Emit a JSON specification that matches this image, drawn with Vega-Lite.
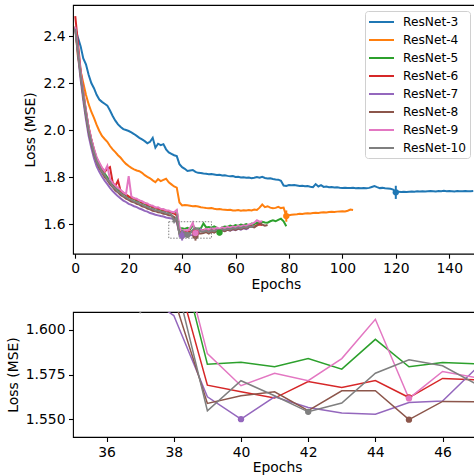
{
"$schema":"https://vega.github.io/schema/vega-lite/v6.json",
"padding":{"left":5,"top":4,"right":0,"bottom":0},
"spacing":18,
"datasets":{
"names":[{"k":"r3","model":"ResNet-3"},{"k":"r4","model":"ResNet-4"},{"k":"r5","model":"ResNet-5"},{"k":"r6","model":"ResNet-6"},{"k":"r7","model":"ResNet-7"},{"k":"r8","model":"ResNet-8"},{"k":"r9","model":"ResNet-9"},{"k":"r10","model":"ResNet-10"}],
"mins":[
{"model":"ResNet-3","e":120,"loss":1.735,"lo":1.707,"hi":1.763},
{"model":"ResNet-4","e":79,"loss":1.634,"lo":1.61,"hi":1.658},
{"model":"ResNet-5","e":54,"loss":1.564,"lo":1.552,"hi":1.576},
{"model":"ResNet-6","e":45,"loss":1.5621,"lo":1.5501,"hi":1.5741},
{"model":"ResNet-7","e":40,"loss":1.55,"lo":1.53,"hi":1.57},
{"model":"ResNet-8","e":45,"loss":1.5497,"lo":1.5297,"hi":1.5697},
{"model":"ResNet-9","e":45,"loss":1.5616,"lo":1.5516,"hi":1.5716},
{"model":"ResNet-10","e":42,"loss":1.5541,"lo":1.5441,"hi":1.5641}],
"box":[{"x1":35,"x2":51,"y1":1.54,"y2":1.61}],
"curves":[
{"e":0,"r3":2.435,"r4":2.44,"r5":2.44,"r6":2.485,"r7":2.43,"r8":2.435,"r9":2.44,"r10":2.43},
{"e":1,"r3":2.393,"r4":2.31,"r5":2.34,"r6":2.37,"r7":2.32,"r8":2.33,"r9":2.345,"r10":2.335},
{"e":2,"r3":2.357,"r4":2.25,"r5":2.245,"r6":2.255,"r7":2.215,"r8":2.232,"r9":2.25,"r10":2.235},
{"e":3,"r3":2.305,"r4":2.2,"r5":2.155,"r6":2.165,"r7":2.125,"r8":2.142,"r9":2.16,"r10":2.148},
{"e":4,"r3":2.28,"r4":2.15,"r5":2.076,"r6":2.082,"r7":2.045,"r8":2.062,"r9":2.08,"r10":2.068},
{"e":5,"r3":2.235,"r4":2.11,"r5":2.008,"r6":2.012,"r7":1.975,"r8":1.993,"r9":2.012,"r10":1.998},
{"e":6,"r3":2.2,"r4":2.078,"r5":1.958,"r6":1.962,"r7":1.925,"r8":1.943,"r9":1.962,"r10":1.948},
{"e":7,"r3":2.178,"r4":2.052,"r5":1.912,"r6":1.918,"r7":1.88,"r8":1.898,"r9":1.92,"r10":1.905},
{"e":8,"r3":2.15,"r4":2.022,"r5":1.877,"r6":1.88,"r7":1.845,"r8":1.865,"r9":1.885,"r10":1.868},
{"e":9,"r3":2.13,"r4":1.996,"r5":1.853,"r6":1.858,"r7":1.822,"r8":1.838,"r9":1.862,"r10":1.846},
{"e":10,"r3":2.12,"r4":1.975,"r5":1.832,"r6":1.838,"r7":1.802,"r8":1.82,"r9":1.84,"r10":1.823},
{"e":11,"r3":2.112,"r4":1.962,"r5":1.815,"r6":1.822,"r7":1.785,"r8":1.801,"r9":1.825,"r10":1.81},
{"e":12,"r3":2.104,"r4":1.95,"r5":1.799,"r6":1.835,"r7":1.77,"r8":1.787,"r9":1.848,"r10":1.79},
{"e":13,"r3":2.083,"r4":1.932,"r5":1.784,"r6":1.842,"r7":1.754,"r8":1.77,"r9":1.79,"r10":1.778},
{"e":14,"r3":2.06,"r4":1.918,"r5":1.769,"r6":1.778,"r7":1.74,"r8":1.757,"r9":1.775,"r10":1.76},
{"e":15,"r3":2.04,"r4":1.906,"r5":1.757,"r6":1.762,"r7":1.729,"r8":1.743,"r9":1.764,"r10":1.752},
{"e":16,"r3":2.024,"r4":1.893,"r5":1.748,"r6":1.785,"r7":1.718,"r8":1.735,"r9":1.754,"r10":1.738},
{"e":17,"r3":2.013,"r4":1.882,"r5":1.737,"r6":1.74,"r7":1.709,"r8":1.723,"r9":1.745,"r10":1.732},
{"e":18,"r3":2.004,"r4":1.868,"r5":1.73,"r6":1.733,"r7":1.7,"r8":1.717,"r9":1.735,"r10":1.72},
{"e":19,"r3":2.0,"r4":1.856,"r5":1.722,"r6":1.726,"r7":1.694,"r8":1.708,"r9":1.728,"r10":1.716},
{"e":20,"r3":1.996,"r4":1.847,"r5":1.716,"r6":1.718,"r7":1.686,"r8":1.703,"r9":1.804,"r10":1.706},
{"e":21,"r3":1.99,"r4":1.839,"r5":1.71,"r6":1.712,"r7":1.682,"r8":1.696,"r9":1.718,"r10":1.704},
{"e":22,"r3":1.983,"r4":1.833,"r5":1.706,"r6":1.709,"r7":1.676,"r8":1.693,"r9":1.71,"r10":1.696},
{"e":23,"r3":1.975,"r4":1.828,"r5":1.699,"r6":1.703,"r7":1.672,"r8":1.686,"r9":1.708,"r10":1.694},
{"e":24,"r3":1.967,"r4":1.825,"r5":1.696,"r6":1.7,"r7":1.666,"r8":1.683,"r9":1.7,"r10":1.686},
{"e":25,"r3":1.96,"r4":1.818,"r5":1.689,"r6":1.692,"r7":1.662,"r8":1.676,"r9":1.697,"r10":1.684},
{"e":26,"r3":1.953,"r4":1.808,"r5":1.686,"r6":1.69,"r7":1.656,"r8":1.673,"r9":1.69,"r10":1.676},
{"e":27,"r3":1.944,"r4":1.801,"r5":1.679,"r6":1.682,"r7":1.653,"r8":1.666,"r9":1.688,"r10":1.674},
{"e":28,"r3":1.95,"r4":1.795,"r5":1.676,"r6":1.679,"r7":1.647,"r8":1.663,"r9":1.68,"r10":1.666},
{"e":29,"r3":1.967,"r4":1.786,"r5":1.67,"r6":1.672,"r7":1.644,"r8":1.657,"r9":1.678,"r10":1.665},
{"e":30,"r3":1.925,"r4":1.778,"r5":1.668,"r6":1.67,"r7":1.64,"r8":1.655,"r9":1.671,"r10":1.658},
{"e":31,"r3":1.942,"r4":1.791,"r5":1.663,"r6":1.665,"r7":1.637,"r8":1.65,"r9":1.672,"r10":1.658},
{"e":32,"r3":1.936,"r4":1.783,"r5":1.661,"r6":1.664,"r7":1.634,"r8":1.649,"r9":1.665,"r10":1.652},
{"e":33,"r3":1.94,"r4":1.788,"r5":1.657,"r6":1.659,"r7":1.632,"r8":1.644,"r9":1.664,"r10":1.652},
{"e":34,"r3":1.918,"r4":1.793,"r5":1.656,"r6":1.657,"r7":1.628,"r8":1.643,"r9":1.658,"r10":1.646},
{"e":35,"r3":1.905,"r4":1.778,"r5":1.651,"r6":1.652,"r7":1.626,"r8":1.638,"r9":1.658,"r10":1.646},
{"e":36,"r3":1.899,"r4":1.769,"r5":1.65,"r6":1.65,"r7":1.624,"r8":1.637,"r9":1.652,"r10":1.64},
{"e":37,"r3":1.893,"r4":1.76,"r5":1.646,"r6":1.645,"r7":1.621,"r8":1.63,"r9":1.65,"r10":1.6097},
{"e":38,"r3":1.889,"r4":1.755,"r5":1.655,"r6":1.637,"r7":1.608,"r8":1.618,"r9":1.66,"r10":1.632},
{"e":39,"r3":1.855,"r4":1.692,"r5":1.5808,"r6":1.569,"r7":1.5625,"r8":1.5588,"r9":1.5867,"r10":1.5547},
{"e":40,"r3":1.842,"r4":1.679,"r5":1.5818,"r6":1.5653,"r7":1.55,"r8":1.5631,"r9":1.5687,"r10":1.5715},
{"e":41,"r3":1.835,"r4":1.681,"r5":1.5793,"r6":1.5618,"r7":1.5625,"r8":1.5653,"r9":1.5757,"r10":1.5631},
{"e":42,"r3":1.826,"r4":1.68,"r5":1.5839,"r6":1.5711,"r7":1.5565,"r8":1.5547,"r9":1.5715,"r10":1.5541},
{"e":43,"r3":1.828,"r4":1.678,"r5":1.578,"r6":1.5677,"r7":1.5534,"r8":1.5659,"r9":1.5839,"r10":1.559},
{"e":44,"r3":1.83,"r4":1.676,"r5":1.5947,"r6":1.5716,"r7":1.5528,"r8":1.5659,"r9":1.6059,"r10":1.5757},
{"e":45,"r3":1.822,"r4":1.677,"r5":1.5793,"r6":1.5621,"r7":1.5593,"r8":1.5497,"r9":1.5616,"r10":1.5832},
{"e":46,"r3":1.818,"r4":1.675,"r5":1.5817,"r6":1.5728,"r7":1.5601,"r8":1.5599,"r9":1.5767,"r10":1.5799},
{"e":47,"r3":1.817,"r4":1.672,"r5":1.581,"r6":1.572,"r7":1.5784,"r8":1.5597,"r9":1.5733,"r10":1.5696},
{"e":48,"r3":1.815,"r4":1.67,"r5":1.603,"r6":1.575,"r7":1.566,"r8":1.562,"r9":1.572,"r10":1.568},
{"e":49,"r3":1.814,"r4":1.668,"r5":1.586,"r6":1.578,"r7":1.57,"r8":1.566,"r9":1.58,"r10":1.572},
{"e":50,"r3":1.812,"r4":1.667,"r5":1.588,"r6":1.572,"r7":1.563,"r8":1.56,"r9":1.576,"r10":1.566},
{"e":51,"r3":1.813,"r4":1.668,"r5":1.585,"r6":1.576,"r7":1.571,"r8":1.568,"r9":1.583,"r10":1.574},
{"e":52,"r3":1.811,"r4":1.665,"r5":1.59,"r6":1.574,"r7":1.566,"r8":1.564,"r9":1.578,"r10":1.57},
{"e":53,"r3":1.809,"r4":1.663,"r5":1.584,"r6":1.579,"r7":1.572,"r8":1.571,"r9":1.585,"r10":1.576},
{"e":54,"r3":1.81,"r4":1.664,"r5":1.564,"r6":1.577,"r7":1.568,"r8":1.567,"r9":1.58,"r10":1.572},
{"e":55,"r3":1.807,"r4":1.662,"r5":1.586,"r6":1.581,"r7":1.574,"r8":1.574,"r9":1.586,"r10":1.578},
{"e":56,"r3":1.808,"r4":1.661,"r5":1.59,"r6":1.576,"r7":1.57,"r8":1.57,"r9":1.582,"r10":1.575},
{"e":57,"r3":1.805,"r4":1.66,"r5":1.588,"r6":1.582,"r7":1.576,"r8":1.576,"r9":1.588,"r10":1.58},
{"e":58,"r3":1.803,"r4":1.661,"r5":1.594,"r6":1.58,"r7":1.572,"r8":1.573,"r9":1.585,"r10":1.577},
{"e":59,"r3":1.804,"r4":1.658,"r5":1.59,"r6":1.584,"r7":1.578,"r8":1.579,"r9":1.59,"r10":1.583},
{"e":60,"r3":1.8,"r4":1.658,"r5":1.596,"r6":1.581,"r7":1.574,"r8":1.575,"r9":1.586,"r10":1.58},
{"e":61,"r3":1.801,"r4":1.66,"r5":1.592,"r6":1.585,"r7":1.58,"r8":1.581,"r9":1.593,"r10":1.586},
{"e":62,"r3":1.798,"r4":1.657,"r5":1.598,"r6":1.583,"r7":1.576,"r8":1.578,"r9":1.589,"r10":1.582},
{"e":63,"r3":1.799,"r4":1.659,"r5":1.595,"r6":1.588,"r7":1.582,"r8":1.584,"r9":1.595,"r10":1.588},
{"e":64,"r3":1.797,"r4":1.658,"r5":1.6,"r6":1.586,"r7":1.578,"r8":1.581,"r9":1.592,"r10":1.585},
{"e":65,"r3":1.798,"r4":1.66,"r5":1.594,"r6":1.59,"r7":1.584,"r8":1.587,"r9":1.598,"r10":1.591},
{"e":66,"r3":1.795,"r4":1.658,"r5":1.602,"r6":1.592,"r8":1.59,"r9":1.601,"r10":1.588},
{"e":67,"r3":1.797,"r4":1.662,"r5":1.6,"r6":1.589,"r8":1.586,"r9":1.606,"r10":1.594},
{"e":68,"r3":1.8,"r4":1.66,"r5":1.606,"r6":1.595,"r8":1.594,"r9":1.616},
{"e":69,"r3":1.797,"r4":1.67,"r5":1.603,"r6":1.598,"r8":1.606,"r9":1.61},
{"e":70,"r3":1.801,"r4":1.683,"r5":1.61,"r6":1.596,"r8":1.598,"r9":1.612},
{"e":71,"r3":1.796,"r4":1.672,"r5":1.607,"r8":1.593},
{"e":72,"r3":1.794,"r4":1.676,"r5":1.606,"r8":1.596},
{"e":73,"r3":1.795,"r4":1.67,"r5":1.612},
{"e":74,"r3":1.792,"r4":1.667,"r5":1.616},
{"e":75,"r3":1.79,"r4":1.669,"r5":1.612},
{"e":76,"r3":1.789,"r4":1.673,"r5":1.618},
{"e":77,"r3":1.784,"r4":1.668,"r5":1.623},
{"e":78,"r3":1.764,"r4":1.67,"r5":1.612},
{"e":79,"r3":1.762,"r4":1.634,"r5":1.591},
{"e":80,"r3":1.766,"r4":1.638},
{"e":81,"r3":1.765,"r4":1.64},
{"e":82,"r3":1.766,"r4":1.641},
{"e":83,"r3":1.764,"r4":1.642},
{"e":84,"r3":1.762,"r4":1.644},
{"e":85,"r3":1.763,"r4":1.643},
{"e":86,"r3":1.761,"r4":1.645},
{"e":87,"r3":1.762,"r4":1.646},
{"e":88,"r3":1.759,"r4":1.645},
{"e":89,"r3":1.757,"r4":1.647},
{"e":90,"r3":1.77,"r4":1.648},
{"e":91,"r3":1.76,"r4":1.647},
{"e":92,"r3":1.766,"r4":1.649},
{"e":93,"r3":1.758,"r4":1.65},
{"e":94,"r3":1.76,"r4":1.649},
{"e":95,"r3":1.757,"r4":1.651},
{"e":96,"r3":1.758,"r4":1.652},
{"e":97,"r3":1.756,"r4":1.651},
{"e":98,"r3":1.757,"r4":1.653},
{"e":99,"r3":1.755,"r4":1.654},
{"e":100,"r3":1.754,"r4":1.655},
{"e":101,"r3":1.755,"r4":1.654},
{"e":102,"r3":1.754,"r4":1.657},
{"e":103,"r3":1.753,"r4":1.662},
{"e":104,"r3":1.754,"r4":1.66},
{"e":105,"r3":1.752},{"e":106,"r3":1.753},{"e":107,"r3":1.752},{"e":108,"r3":1.753},{"e":109,"r3":1.752},
{"e":110,"r3":1.754},{"e":111,"r3":1.758},{"e":112,"r3":1.762},{"e":113,"r3":1.757},{"e":114,"r3":1.753},
{"e":115,"r3":1.754},{"e":116,"r3":1.752},{"e":117,"r3":1.751},{"e":118,"r3":1.75},{"e":119,"r3":1.747},
{"e":120,"r3":1.735},{"e":121,"r3":1.738},{"e":122,"r3":1.737},{"e":123,"r3":1.738},{"e":124,"r3":1.737},
{"e":125,"r3":1.738},{"e":126,"r3":1.739},{"e":127,"r3":1.738},{"e":128,"r3":1.74},{"e":129,"r3":1.739},
{"e":130,"r3":1.74},{"e":131,"r3":1.739},{"e":132,"r3":1.74},{"e":133,"r3":1.741},{"e":134,"r3":1.74},
{"e":135,"r3":1.739},{"e":136,"r3":1.741},{"e":137,"r3":1.74},{"e":138,"r3":1.742},{"e":139,"r3":1.74},
{"e":140,"r3":1.741},{"e":141,"r3":1.74},{"e":142,"r3":1.739},{"e":143,"r3":1.741},{"e":144,"r3":1.74},
{"e":145,"r3":1.74},{"e":146,"r3":1.741},{"e":147,"r3":1.74},{"e":148,"r3":1.74},{"e":149,"r3":1.741}
]},
"vconcat":[
{
"width":405.6,"height":248.7,
"resolve":{"legend":{"color":"independent"}},
"layer":[
{"data":{"name":"curves"},
"transform":[{"fold":["r3","r4","r5","r6","r7","r8","r9","r10"],"as":["k","loss"]},{"filter":"isValid(datum.loss)"},{"lookup":"k","from":{"data":{"name":"names"},"key":"k","fields":["model"]}}],
"mark":{"type":"line","strokeWidth":2,"clip":true},
"encoding":{
"x":{"field":"e","type":"quantitative","scale":{"domain":[-0.85,151],"nice":false,"zero":false},"axis":{"title":"Epochs","values":[0,20,40,60,80,100,120,140],"format":"d","labelFlush":false,"labelOverlap":false,"titlePadding":2}},
"y":{"field":"loss","type":"quantitative","scale":{"domain":[1.474,2.532],"nice":false,"zero":false},"axis":{"title":"Loss (MSE)","values":[1.6,1.8,2.0,2.2,2.4],"format":".1f","labelOverlap":false,"titlePadding":5}},
"color":{"field":"model","type":"nominal","scale":{"domain":["ResNet-3","ResNet-4","ResNet-5","ResNet-6","ResNet-7","ResNet-8","ResNet-9","ResNet-10"],"range":["#1f77b4","#ff7f0e","#2ca02c","#d62728","#9467bd","#8c564b","#e377c2","#7f7f7f"]},
"legend":{"orient":"none","legendX":292,"legendY":6,"title":null,"padding":3.5,"fillColor":"white","strokeColor":"#d0d0d0","cornerRadius":3,"labelFontSize":12.2,"labelFont":"DejaVu Sans","labelFontWeight":"normal","labelColor":"black","symbolType":"M-2,0H2","symbolSize":156,"symbolStrokeWidth":2,"symbolOffset":5.5,"labelOffset":14,"rowPadding":4}}
}},
{"data":{"name":"mins"},
"mark":{"type":"rule","strokeWidth":2},
"encoding":{"x":{"field":"e","type":"quantitative"},"y":{"field":"lo","type":"quantitative"},"y2":{"field":"hi"},"color":{"field":"model","type":"nominal","legend":null}}},
{"data":{"name":"mins"},
"mark":{"type":"circle","opacity":1,"size":40},
"encoding":{"x":{"field":"e","type":"quantitative"},"y":{"field":"loss","type":"quantitative"},"color":{"field":"model","type":"nominal","legend":null}}},
{"data":{"name":"box"},
"mark":{"type":"rect","fill":null,"filled":false,"stroke":"#808080","strokeWidth":1,"strokeDash":[1.5,1.5]},
"encoding":{"x":{"field":"x1","type":"quantitative"},"x2":{"field":"x2"},"y":{"field":"y1","type":"quantitative"},"y2":{"field":"y2"}}}
]},
{
"width":408.2,"height":125,
"layer":[
{"data":{"name":"curves"},
"transform":[{"filter":"datum.e >= 33 && datum.e <= 49"},{"fold":["r3","r4","r5","r6","r7","r8","r9","r10"],"as":["k","loss"]},{"filter":"isValid(datum.loss)"},{"lookup":"k","from":{"data":{"name":"names"},"key":"k","fields":["model"]}}],
"mark":{"type":"line","strokeWidth":1.5,"clip":true},
"encoding":{
"x":{"field":"e","type":"quantitative","scale":{"domain":[35,47.15],"nice":false,"zero":false},"axis":{"title":"Epochs","values":[36,38,40,42,44,46],"format":"d","labelFlush":false,"labelOverlap":false,"titlePadding":2}},
"y":{"field":"loss","type":"quantitative","scale":{"domain":[1.54,1.61],"nice":false,"zero":false},"axis":{"title":"Loss (MSE)","values":[1.55,1.575,1.6],"format":".3f","labelOverlap":false,"titlePadding":5}},
"color":{"field":"model","type":"nominal","scale":{"domain":["ResNet-3","ResNet-4","ResNet-5","ResNet-6","ResNet-7","ResNet-8","ResNet-9","ResNet-10"],"range":["#1f77b4","#ff7f0e","#2ca02c","#d62728","#9467bd","#8c564b","#e377c2","#7f7f7f"]},"legend":null}
}},
{"data":{"name":"mins"},
"mark":{"type":"circle","opacity":1,"size":40,"clip":true},
"encoding":{"x":{"field":"e","type":"quantitative"},"y":{"field":"loss","type":"quantitative"},"color":{"field":"model","type":"nominal","legend":null}}}
]}
],
"config":{
"font":"DejaVu Sans",
"view":{"stroke":"black","strokeWidth":1.1},
"axis":{"labelFont":"DejaVu Sans","labelFontSize":13.9,"labelColor":"black","titleFont":"DejaVu Sans","titleFontSize":13.9,"titleFontWeight":"normal","titleColor":"black","tickColor":"black","tickSize":4.5,"tickWidth":1.1,"labelPadding":3.5,"grid":false,"domain":false}
}
}
